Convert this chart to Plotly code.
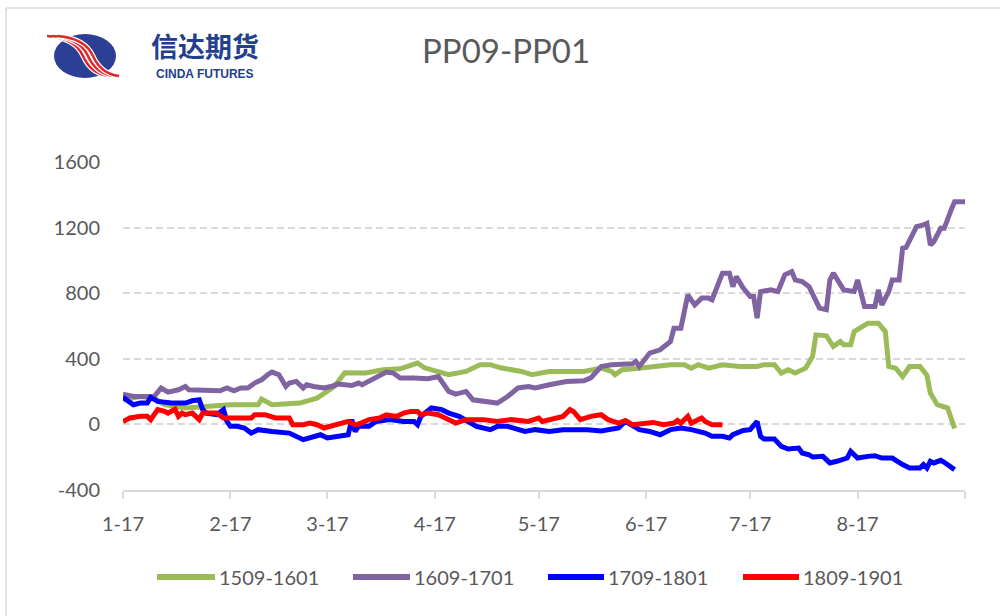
import plotly.graph_objects as go

# day offsets counted from 1-17
tick_days = [0, 31, 59, 90, 120, 151, 181, 212, 243]
tick_labels = ["1-17", "2-17", "3-17", "4-17", "5-17", "6-17", "7-17", "8-17", ""]
y_ticks = [-400, 0, 400, 800, 1200, 1600]

series_names = ["1509-1601", "1609-1701", "1709-1801", "1809-1901"]
series_colors = ["#9BBB59", "#8064A2", "#0000FF", "#FF0000"]

green_days = [0, 5, 9, 12, 18, 25, 31, 39, 40, 43, 51, 56, 61, 64, 70, 75, 80, 85, 87, 94,
              99, 103, 106, 109, 115, 118, 122, 123, 128, 133, 138, 141, 142, 144, 149, 154,
              158, 162, 164, 166, 169, 173, 178, 183, 185, 188, 190, 192, 194, 197, 199, 200,
              203, 205, 207, 208, 210, 211, 215, 218, 220, 221, 223, 225, 227, 230, 232, 233,
              235, 238, 240]
green_vals = [150, 170, 160, 120, 100, 110, 120, 120, 155, 120, 130, 160, 231, 315, 313, 333,
              339, 374, 345, 303, 323, 364, 364, 345, 323, 303, 313, 323, 323, 323, 343, 323,
              303, 333, 343, 353, 364, 364, 343, 364, 343, 364, 353, 353, 364, 364, 313, 333,
              313, 343, 414, 546, 540, 475, 505, 485, 485, 566, 617, 617, 566, 353, 343, 292,
              353, 353, 300, 191, 120, 100, -25]

purple_days = [0, 3, 6, 9, 11, 13, 16, 18, 19, 23, 28, 30, 32, 34, 36, 38, 40, 42, 43, 45,
               47, 48, 50, 52, 53, 55, 58, 60, 62, 66, 68, 69, 72, 76, 78, 80, 84, 88, 91, 92,
               94, 96, 99, 101, 104, 108, 111, 114, 117, 119, 123, 128, 133, 135, 138, 141,
               147, 148, 149, 152, 155, 158, 159, 161, 163, 165, 167, 169, 170, 171, 173, 175,
               176, 177, 179, 181, 182, 183, 184, 187, 189, 191, 193, 194, 196, 198, 201, 203,
               204, 205, 208, 211, 212, 214, 217, 218, 219, 221, 222, 224, 225, 226, 228, 229,
               231, 232, 233, 234, 236, 237, 239, 240, 243]
purple_vals = [185, 170, 170, 170, 222, 197, 211, 231, 211, 205, 205, 222, 205, 222, 222, 252,
               272, 307, 319, 303, 231, 252, 262, 222, 242, 231, 222, 231, 246, 237, 252, 242,
               272, 319, 313, 283, 283, 278, 292, 262, 201, 185, 201, 150, 140, 130, 170, 222,
               231, 222, 242, 262, 266, 284, 353, 364, 370, 384, 353, 435, 455, 505, 587, 587,
               790, 729, 770, 770, 760, 820, 922, 922, 840, 901, 831, 780, 780, 648, 810, 820,
               810, 912, 932, 881, 871, 840, 709, 699, 881, 922, 820, 810, 881, 719, 719, 820,
               729, 810, 881, 881, 1074, 1080, 1155, 1206, 1216, 1226, 1094, 1114, 1196, 1196,
               1308, 1358, 1358]

blue_days = [0, 3, 5, 7, 8, 10, 14, 18, 20, 22, 23, 24, 27, 29, 30, 31, 33, 35, 37, 39, 43,
             48, 52, 54, 57, 59, 62, 65, 66, 67, 68, 71, 73, 77, 81, 84, 85, 86, 89, 92, 94,
             97, 102, 106, 108, 111, 116, 119, 123, 127, 131, 134, 138, 141, 143, 145, 149,
             152, 155, 158, 161, 164, 168, 170, 173, 175, 176, 179, 181, 183, 184, 185, 188,
             190, 192, 195, 196, 198, 199, 202, 204, 206, 209, 210, 212, 215, 217, 219, 222,
             225, 227, 230, 231, 232, 233, 234, 236, 237, 240]
blue_vals = [165, 120, 130, 130, 165, 140, 130, 130, 144, 150, 90, 69, 59, 90, 18, -12, -12,
             -22, -53, -32, -43, -53, -93, -83, -63, -83, -73, -63, 29, -43, -12, -12, 18, 29,
             18, 18, -2, 49, 100, 90, 69, 49, -12, -32, -12, -12, -43, -32, -43, -32, -32, -32,
             -40, -32, -22, 18, -32, -43, -63, -32, -22, -32, -53, -73, -73, -83, -63, -37,
             -32, 18, -73, -89, -89, -134, -150, -144, -174, -185, -199, -195, -235, -225,
             -205, -164, -205, -195, -191, -205, -205, -245, -266, -266, -245, -266, -225,
             -235, -219, -231, -276]

red_days = [0, 2, 5, 7, 8, 10, 12, 13, 15, 16, 17, 18, 20, 22, 23, 25, 27, 29, 32, 37, 38,
            41, 44, 48, 49, 52, 54, 56, 58, 61, 63, 65, 67, 68, 71, 74, 76, 79, 81, 83, 85,
            86, 88, 91, 93, 96, 99, 104, 108, 112, 117, 120, 121, 125, 127, 129, 130, 132,
            135, 138, 140, 143, 145, 147, 149, 153, 156, 159, 160, 161, 163, 164, 167, 168,
            170, 173]
red_vals = [18, 39, 49, 49, 29, 90, 79, 69, 93, 49, 69, 59, 69, 29, 69, 69, 69, 39, 39, 39,
            59, 59, 39, 39, -2, -2, 8, -2, -22, -2, 8, 18, -2, 2, 29, 39, 59, 49, 69, 79, 79,
            59, 69, 59, 39, 8, 29, 29, 18, 29, 18, 39, 18, 39, 49, 90, 79, 29, 49, 59, 29, 8,
            24, -2, 4, 12, -2, 8, 24, 8, 49, 8, 39, 18, -2, -2]

# page pixels -> paper coords (plot area spans x 123..965, y 162..490)
L, R, T, B = 123, 965, 162, 490
def px(x):
    return (x - L) / (R - L)
def py(y):
    return (B - y) / (B - T)

grey = "#595959"
font = "Lato"

fig = go.Figure()
all_days = [green_days, purple_days, blue_days, red_days]
all_vals = [green_vals, purple_vals, blue_vals, red_vals]
for name, color, d, v in zip(series_names, series_colors, all_days, all_vals):
    fig.add_trace(go.Scatter(x=d, y=v, mode="lines", name=name, showlegend=False,
                             line=dict(color=color, width=5), hoverinfo="skip"))

shapes = []
annotations = []

# legend drawn by hand so the line samples are long like the original
leg_lines = [(157, 215), (353, 410), (548, 604), (743, 799)]
for (x0, x1), name, color in zip(leg_lines, series_names, series_colors):
    shapes.append(dict(type="line", xref="paper", yref="paper", x0=px(x0), x1=px(x1),
                       y0=py(577), y1=py(577), line=dict(color=color, width=6)))
    annotations.append(dict(text=name, xref="paper", yref="paper", x=px(x1 + 2), y=py(577),
                            xanchor="left", yanchor="middle", showarrow=False,
                            font=dict(family=font, size=20, color=grey)))

# title
annotations.append(dict(text="PP09-PP01", xref="paper", yref="paper", x=px(506), y=py(50),
                        xanchor="center", yanchor="middle", showarrow=False,
                        font=dict(family=font, size=33, color=grey)))

# logo
shapes.append(dict(type="circle", xref="paper", yref="paper", x0=px(54), x1=px(116),
                   y0=py(34), y1=py(78), fillcolor="#2b3f94", line=dict(width=0)))
for off in [-5, 0, 5]:
    path = (f"M {px(52 + off)} {py(36)} Q {px(80 + off)} {py(38)} "
            f"{px(88 + off)} {py(56)} T {px(114 + off)} {py(76)}")
    shapes.append(dict(type="path", xref="paper", yref="paper", path=path,
                       line=dict(color="white", width=5)))
    shapes.append(dict(type="path", xref="paper", yref="paper", path=path,
                       line=dict(color="#e0262b", width=2.5)))
annotations.append(dict(text="<b>信达期货</b>", xref="paper", yref="paper", x=px(205), y=py(45),
                        xanchor="center", yanchor="middle", showarrow=False,
                        font=dict(family="Noto Sans CJK SC", size=27, color="#233f8e")))
annotations.append(dict(text="<b>CINDA FUTURES</b>", xref="paper", yref="paper", x=px(205),
                        y=py(74), xanchor="center", yanchor="middle", showarrow=False,
                        font=dict(family="Liberation Sans", size=12, color="#233f8e")))

# outer frame (left and top edges)
shapes.append(dict(type="line", xref="paper", yref="paper", x0=px(6), x1=px(6),
                   y0=py(8), y1=py(616), line=dict(color="#d9d9d9", width=1.5)))
shapes.append(dict(type="line", xref="paper", yref="paper", x0=px(6), x1=px(1000),
                   y0=py(8), y1=py(8), line=dict(color="#d9d9d9", width=1.5)))

fig.update_layout(
    width=1000, height=616,
    margin=dict(l=L, r=1000 - R, t=T, b=616 - B),
    paper_bgcolor="white", plot_bgcolor="white",
    shapes=shapes, annotations=annotations,
    showlegend=False,
)
fig.update_xaxes(range=[0, 243], tickvals=tick_days, ticktext=tick_labels,
                 ticks="outside", ticklen=7, tickwidth=1.5, tickcolor="#d9d9d9",
                 showline=True, linecolor="#d9d9d9", linewidth=1.5,
                 showgrid=False, zeroline=False, ticklabelstandoff=8,
                 tickfont=dict(family=font, size=20, color=grey))
fig.update_yaxes(range=[-400, 1600], tickvals=y_ticks, ticktext=[str(v) for v in y_ticks],
                 showgrid=True, gridcolor="#d9d9d9", gridwidth=1.5, griddash="7px,4px",
                 zeroline=False, showline=False, ticks="", ticklabelstandoff=22,
                 tickfont=dict(family=font, size=20, color=grey))

fig.write_html("out.html", config={"displayModeBar": False},
               post_script="document.body.style.margin = '0';")
